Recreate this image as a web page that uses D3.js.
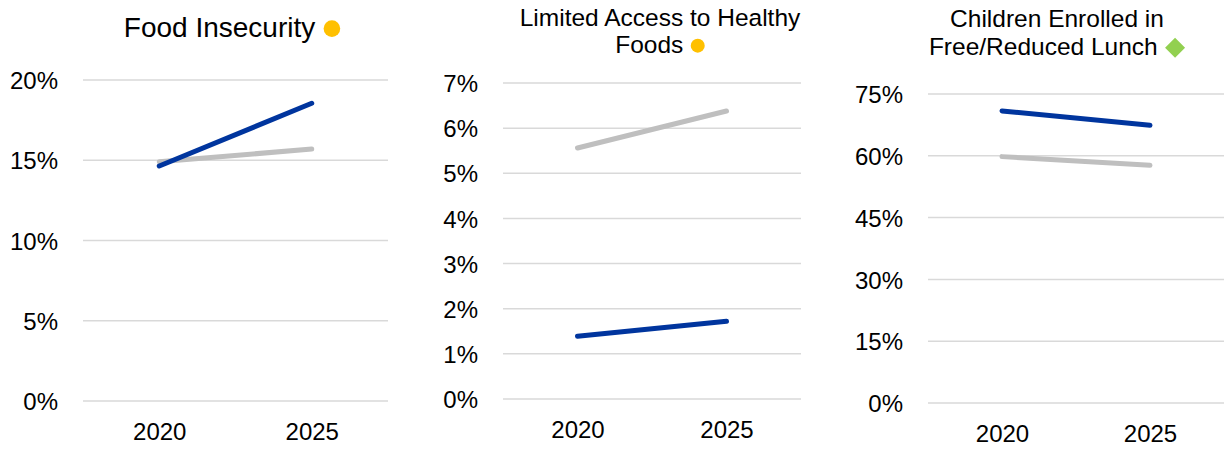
<!DOCTYPE html>
<html>
<head>
<meta charset="utf-8">
<script src="https://cdn.jsdelivr.net/npm/d3@7"></script>
<style>
  html, body { margin: 0; padding: 0; background: #fff; }
  svg { display: block; font-family: "Liberation Sans", Arial, sans-serif; }
</style>
</head>
<body>
<svg id="chart" width="1225" height="449"></svg>
<script>
// ---- data ----
const years = ["2020", "2025"];

const foodInsecurityCounty = [14.64, 18.55];
const foodInsecurityBenchmark = [14.9, 15.7];
const foodInsecurityTicks = [0, 5, 10, 15, 20];

const healthyFoodsCounty = [1.39, 1.72];
const healthyFoodsBenchmark = [5.56, 6.38];
const healthyFoodsTicks = [0, 1, 2, 3, 4, 5, 6, 7];

const lunchCounty = [70.9, 67.4];
const lunchBenchmark = [59.8, 57.7];
const lunchTicks = [0, 15, 30, 45, 60, 75];

const titles = [
  ["Food Insecurity"],
  ["Limited Access to Healthy", "Foods"],
  ["Children Enrolled in", "Free/Reduced Lunch"]
];
const markers = ["circle", "circle", "diamond"];

// ---- styling / layout (not data) ----
const BLUE = "#00359E", GRAY = "#BFBFBF", GRID = "#D9D9D9";
const panels = [
  { x0: 83, x1: 388, yTop: 80, yBot: 401, max: 20, ticks: foodInsecurityTicks,
    county: foodInsecurityCounty, bench: foodInsecurityBenchmark,
    title: titles[0], marker: markers[0], titleSize: 28, titleY: [37], cx: 232, markerColor: "#FFC000", markerSize: 8.3 },
  { x0: 503, x1: 801, yTop: 83, yBot: 399, max: 7, ticks: healthyFoodsTicks,
    county: healthyFoodsCounty, bench: healthyFoodsBenchmark,
    title: titles[1], marker: markers[1], titleSize: 24.5, titleY: [26, 53], cx: 660, markerColor: "#FFC000", markerSize: 7 },
  { x0: 928, x1: 1224, yTop: 94, yBot: 403, max: 75, ticks: lunchTicks,
    county: lunchCounty, bench: lunchBenchmark,
    title: titles[2], marker: markers[2], titleSize: 24.5, titleY: [27, 55], cx: 1057, markerColor: "#92D050", markerSize: 10 }
];

const svg = d3.select("#chart");

panels.forEach(p => {
  const g = svg.append("g");
  const x = d3.scalePoint().domain(years).range([p.x0, p.x1]).padding(0.5);
  const y = d3.scaleLinear().domain([0, p.max]).range([p.yBot, p.yTop]);

  // gridlines
  g.append("g").selectAll("line").data(p.ticks).join("line")
    .attr("x1", p.x0).attr("x2", p.x1)
    .attr("y1", d => y(d)).attr("y2", d => y(d))
    .attr("stroke", GRID).attr("stroke-width", 1.5);

  // y axis labels
  const yAxis = d3.axisLeft(y).tickValues(p.ticks).tickFormat(d => d + "%").tickSize(0).tickPadding(25);
  const ya = g.append("g").attr("transform", `translate(${p.x0},0)`).call(yAxis);
  ya.select(".domain").remove();
  ya.selectAll("text").attr("font-size", 24).attr("fill", "#000")
    .attr("font-family", "Liberation Sans, Arial, sans-serif").attr("dy", "0.36em");

  // x axis labels
  const xAxis = d3.axisBottom(x).tickSize(0).tickPadding(0);
  const xa = g.append("g").attr("transform", `translate(0,${p.yBot})`).call(xAxis);
  xa.select(".domain").remove();
  xa.selectAll("text").attr("font-size", 24).attr("fill", "#000")
    .attr("font-family", "Liberation Sans, Arial, sans-serif").attr("dy", null).attr("y", 39);

  // lines
  const line = d3.line().x((d, i) => x(years[i])).y(d => y(d));
  [[p.bench, GRAY], [p.county, BLUE]].forEach(([vals, col]) => {
    g.append("path").datum(vals).attr("d", line)
      .attr("fill", "none").attr("stroke", col).attr("stroke-width", 5)
      .attr("stroke-linecap", "round");
  });

  // title with marker
  const tg = g.append("g");
  const n = p.title.length;
  p.title.forEach((t, i) => {
    const te = tg.append("text").text(t)
      .attr("font-size", p.titleSize).attr("fill", "#000")
      .attr("y", p.titleY[i]);
    const w = te.node().getComputedTextLength();
    if (i === n - 1) {
      const gap = p.titleSize * 0.3;
      const mw = p.markerSize * 2;
      const total = w + gap + mw;
      const start = p.cx - total / 2;
      te.attr("x", start);
      const mx = start + w + gap + p.markerSize;
      const my = p.titleY[i] - p.titleSize * 0.3;
      if (p.marker === "circle") {
        tg.append("circle").attr("cx", mx).attr("cy", my).attr("r", p.markerSize).attr("fill", p.markerColor);
      } else {
        const s = p.markerSize;
        tg.append("path").attr("d", `M${mx},${my - s}L${mx + s},${my}L${mx},${my + s}L${mx - s},${my}Z`).attr("fill", p.markerColor);
      }
    } else {
      te.attr("x", p.cx).attr("text-anchor", "middle");
    }
  });
});
</script>
</body>
</html>
